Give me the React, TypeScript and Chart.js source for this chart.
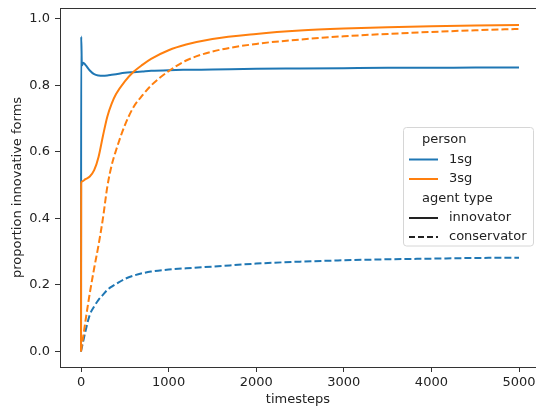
import React, { useEffect, useRef } from "react";
import { Chart, registerables } from "chart.js";

Chart.register(...registerables);

// ---- data ----
const timesteps = [0, 2, 10, 25, 50, 100, 150, 200, 250, 300, 350, 400, 500, 600, 700, 800, 1000, 1200, 1500, 2000, 2500, 3000, 3500, 4000, 4500, 5000];

const sg1Innovator = [0, 0.947, 0.86, 0.868, 0.862, 0.845, 0.834, 0.83, 0.829, 0.83, 0.832, 0.834, 0.838, 0.84, 0.842, 0.844, 0.846, 0.847, 0.848, 0.85, 0.851, 0.852, 0.853, 0.853, 0.854, 0.854];
const sg1Conservator = [0, 0.003, 0.012, 0.03, 0.06, 0.11, 0.135, 0.155, 0.17, 0.185, 0.195, 0.203, 0.218, 0.228, 0.235, 0.24, 0.246, 0.25, 0.255, 0.264, 0.27, 0.274, 0.277, 0.279, 0.281, 0.282];
const sg3Innovator = [0, 0.505, 0.511, 0.513, 0.518, 0.526, 0.545, 0.585, 0.648, 0.706, 0.745, 0.774, 0.812, 0.841, 0.862, 0.88, 0.906, 0.923, 0.94, 0.955, 0.965, 0.971, 0.975, 0.978, 0.98, 0.982];
const sg3Conservator = [0, 0.005, 0.02, 0.045, 0.09, 0.175, 0.25, 0.32, 0.4, 0.495, 0.56, 0.605, 0.68, 0.735, 0.77, 0.8, 0.843, 0.875, 0.902, 0.925, 0.938, 0.948, 0.955, 0.961, 0.966, 0.97];

const xTicks = [0, 1000, 2000, 3000, 4000, 5000];
const yTicks = [0, 0.2, 0.4, 0.6, 0.8, 1.0];

const personLabels = ["1sg", "3sg"];
const agentLabels = ["innovator", "conservator"];
const personTitle = "person";
const agentTitle = "agent type";
const xTitle = "timesteps";
const yTitle = "proportion innovative forms";

const BLUE = "#1f77b4";
const ORANGE = "#ff7f0e";
const personColors = [BLUE, ORANGE];
const agentDashes: number[][] = [[], [7, 3]];
const FONT = "'DejaVu Sans', sans-serif";
const TEXT = "#222";
const AXIS = "#333";

const toPoints = (vals: number[]) => timesteps.map((t, i) => ({ x: t, y: vals[i] }));

const framePlugin = {
  id: "frame",
  afterDatasetsDraw(chart: any) {
    const { ctx, chartArea } = chart;
    ctx.save();
    ctx.strokeStyle = AXIS;
    ctx.lineWidth = 1;
    ctx.beginPath();
    ctx.moveTo(chartArea.left, chartArea.top + 0.5);
    ctx.lineTo(chartArea.right, chartArea.top + 0.5);
    ctx.stroke();
    ctx.restore();
  },
};

const legendPlugin = {
  id: "customLegend",
  afterDraw(chart: any) {
    const ctx = chart.ctx;
    ctx.save();
    const bx = 403.5, by = 127.5, bw = 130, bh = 118.5, r = 3;
    ctx.beginPath();
    ctx.moveTo(bx + r, by);
    ctx.lineTo(bx + bw - r, by);
    ctx.quadraticCurveTo(bx + bw, by, bx + bw, by + r);
    ctx.lineTo(bx + bw, by + bh - r);
    ctx.quadraticCurveTo(bx + bw, by + bh, bx + bw - r, by + bh);
    ctx.lineTo(bx + r, by + bh);
    ctx.quadraticCurveTo(bx, by + bh, bx, by + bh - r);
    ctx.lineTo(bx, by + r);
    ctx.quadraticCurveTo(bx, by, bx + r, by);
    ctx.closePath();
    ctx.fillStyle = "rgba(255,255,255,0.85)";
    ctx.fill();
    ctx.strokeStyle = "#d6d6d6";
    ctx.lineWidth = 1;
    ctx.stroke();

    ctx.font = `13px ${FONT}`;
    ctx.textBaseline = "middle";
    ctx.textAlign = "left";
    ctx.fillStyle = TEXT;
    const rowY = [140, 159.5, 179, 198.5, 218, 237];
    const lineX0 = 409, lineX1 = 438, textX = 449, titleX = 422;

    const drawRow = (y: number, color: string, dash: number[], label: string) => {
      ctx.beginPath();
      ctx.setLineDash(dash);
      ctx.strokeStyle = color;
      ctx.lineWidth = 2;
      ctx.moveTo(lineX0, y);
      ctx.lineTo(lineX1, y);
      ctx.stroke();
      ctx.setLineDash([]);
      ctx.fillStyle = TEXT;
      ctx.fillText(label, textX, y);
    };

    ctx.fillText(personTitle, titleX, rowY[0]);
    personLabels.forEach((l, i) => drawRow(rowY[1 + i], personColors[i], [], l));
    ctx.fillStyle = TEXT;
    ctx.fillText(agentTitle, titleX, rowY[3]);
    agentLabels.forEach((l, i) => drawRow(rowY[4 + i], "#222", i === 0 ? [] : [6, 3], l));
    ctx.restore();
  },
};

export default function App() {
  const canvasRef = useRef<HTMLCanvasElement | null>(null);

  useEffect(() => {
    if (!canvasRef.current) return;
    const mk = (label: string, vals: number[], color: string, dash: number[]) => ({
      label,
      data: toPoints(vals),
      borderColor: color,
      backgroundColor: color,
      borderWidth: 2,
      borderDash: dash,
      pointRadius: 0,
      fill: false,
      cubicInterpolationMode: "monotone" as const,
    });
    const chart = new Chart(canvasRef.current, {
      type: "line",
      data: {
        datasets: [
          mk("3sg conservator", sg3Conservator, ORANGE, agentDashes[1]),
          mk("3sg innovator", sg3Innovator, ORANGE, agentDashes[0]),
          mk("1sg conservator", sg1Conservator, BLUE, agentDashes[1]),
          mk("1sg innovator", sg1Innovator, BLUE, agentDashes[0]),
        ],
      },
      options: {
        responsive: false,
        animation: false,
        layout: { padding: { left: 0, right: 0, top: 8, bottom: 0 }, autoPadding: false },
        plugins: { legend: { display: false }, tooltip: { enabled: false } },
        scales: {
          x: {
            type: "linear",
            min: -240,
            max: 5194,
            afterBuildTicks: (s: any) => {
              s.ticks = xTicks.map((v) => ({ value: v }));
            },
            afterFit: (s: any) => {
              s.height = 42;
              s.paddingLeft = 0;
              s.paddingRight = 0;
            },
            grid: { display: true, drawOnChartArea: false, drawTicks: true, tickLength: 5, tickWidth: 1, tickColor: AXIS },
            border: { display: true, color: AXIS, width: 1 },
            ticks: {
              padding: 3,
              color: TEXT,
              autoSkip: false,
              maxRotation: 0,
              font: { family: FONT, size: 13 },
              callback: (v: any) => String(v),
            },
            title: { display: true, text: xTitle, color: TEXT, font: { family: FONT, size: 13 }, padding: { top: 0, bottom: 2 } },
          },
          y: {
            type: "linear",
            min: -0.047,
            max: 1.033,
            afterBuildTicks: (s: any) => {
              s.ticks = yTicks.map((v) => ({ value: v }));
            },
            afterFit: (s: any) => {
              s.width = 60;
              s.paddingTop = 0;
              s.paddingBottom = 0;
            },
            grid: { display: true, drawOnChartArea: false, drawTicks: true, tickLength: 5, tickWidth: 1, tickColor: AXIS },
            border: { display: true, color: AXIS, width: 1 },
            ticks: {
              padding: 5,
              color: TEXT,
              font: { family: FONT, size: 13 },
              callback: (v: any) => Number(v).toFixed(1),
            },
            title: { display: true, text: yTitle, color: TEXT, font: { family: FONT, size: 13 }, padding: { top: 10, bottom: 0 } },
          },
        },
      },
      plugins: [framePlugin, legendPlugin],
    });
    return () => chart.destroy();
  }, []);

  return (
    <div style={{ position: "fixed", left: 0, top: 0, width: 536, height: 409, overflow: "hidden", background: "#fff" }}>
      <canvas ref={canvasRef} width={536} height={409} style={{ display: "block", width: 536, height: 409 }} />
    </div>
  );
}
